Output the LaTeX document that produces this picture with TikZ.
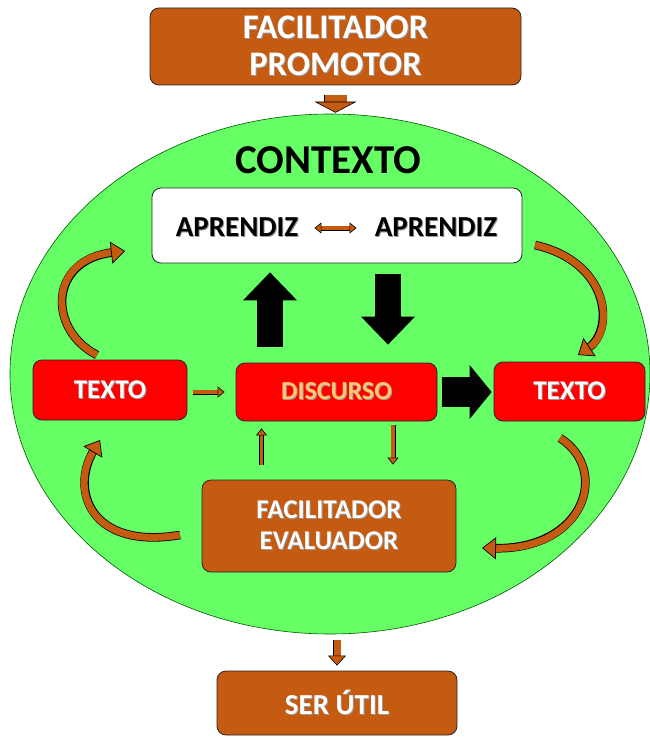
\documentclass[tikz,border=0pt]{standalone}
\usepackage{fontspec}
\setmainfont{Carlito}
\usetikzlibrary{arrows.meta,shapes.geometric}
\definecolor{brn}{HTML}{C55A11}
\definecolor{grn}{HTML}{66FF66}
\definecolor{dsc}{HTML}{FFC870}
\newcommand\shd[2]{\makebox[0pt][l]{\kern1pt\raisebox{-1pt}{\textcolor{black!40}{#2}}}\textcolor{#1}{#2}}
\tikzset{
  box/.style={draw=black!85, line width=0.8pt, rounded corners=9pt, inner sep=0pt},
  brownbox/.style={box, fill=brn},
  redbox/.style={box, fill=red},
  fatarr/.style={line width=26pt, draw=black, -{Triangle[length=28pt,width=54pt,line width=0pt]}},
  fatright/.style={line width=30pt, draw=black, -{Triangle[length=22pt,width=54pt,line width=0pt]}},
  barr/.style 2 args={line width=3.6pt, draw=brn, shorten <=#1, shorten >=#2,
    -{Triangle[length=7pt,width=11pt,line width=0.6pt,color=black,fill=brn]},
    preaction={draw=black, line width=5pt, arrows=-, shorten >=#2+6pt}},
  darr/.style 2 args={line width=3.6pt, draw=brn, shorten <=#1, shorten >=#2,
    {Triangle[length=7pt,width=11pt,line width=0.6pt,color=black,fill=brn]}-{Triangle[length=7pt,width=11pt,line width=0.6pt,color=black,fill=brn]},
    preaction={draw=black, line width=5pt, arrows=-, shorten >=#2+6pt, shorten <=#1+6pt}},
  midarr/.style 2 args={line width=7pt, draw=brn, shorten <=#1, shorten >=#2,
    -{Triangle[length=10pt,width=18pt,line width=0.6pt,color=black,fill=brn]},
    preaction={draw=black, line width=8.4pt, arrows=-, shorten >=#2+9pt}},
  bigarr/.style 2 args={line width=22pt, draw=brn, shorten <=#1, shorten >=#2,
    -{Triangle[length=11pt,width=42pt,line width=0.6pt,color=black,fill=brn]},
    preaction={draw=black, line width=23.4pt, arrows=-, shorten >=#2+10pt}},
  curv/.style={line width=7pt, draw=brn, -{Triangle[length=14pt,width=22pt,line width=0.7pt,color=black,fill=brn]},
    preaction={draw=black, line width=8.6pt, arrows=-, shorten >=12pt}}
}
\begin{document}
\begin{tikzpicture}[x=1pt,y=-1pt]
\useasboundingbox (0,0) rectangle (649,738);
% context ellipse
\node[ellipse, draw=green!35!black, line width=0.6pt, fill=grn, minimum width=640pt, minimum height=520pt, inner sep=0pt] (ell) at (330,374) {};
% top box
\node[brownbox, minimum width=371pt, minimum height=77pt, align=center, font=\bfseries\fontsize{34.5}{37}\selectfont] (top) at (335.5,46.5) {\raisebox{-3pt}{\shd{white}{FACILITADOR}}\\\raisebox{-3pt}{\shd{white}{PROMOTOR}}};
\node[font=\bfseries\fontsize{41}{45}\selectfont] (ctx) at (328,160) {CONTEXTO};
% white box
\node[box, fill=white, minimum width=370pt, minimum height=75pt] (wb) at (337,225.5) {};
\node[font=\bfseries\fontsize{29}{32}\selectfont, inner sep=0pt] (a1) at (237,228) {\shd{black}{APRENDIZ}};
\node[font=\bfseries\fontsize{29}{32}\selectfont, inner sep=0pt] (a2) at (436,228) {\shd{black}{APRENDIZ}};
% middle row
\node[redbox, minimum width=154pt, minimum height=60pt, font=\bfseries\fontsize{27}{30}\selectfont] (texL) at (110,390) {\shd{white}{TEXTO}};
\node[redbox, minimum width=201pt, minimum height=58pt, font=\bfseries\fontsize{26}{30}\selectfont] (disc) at (336.5,392) {\shd{dsc}{DISCURSO}};
\node[redbox, minimum width=151pt, minimum height=59pt, font=\bfseries\fontsize{27}{30}\selectfont] (texR) at (569.5,391.5) {\shd{white}{TEXTO}};
% evaluator
\node[brownbox, minimum width=254pt, minimum height=92pt, align=center, font=\bfseries\fontsize{27}{31}\selectfont] (eval) at (329,526) {\raisebox{-1pt}{\shd{white}{FACILITADOR}}\\\raisebox{-1pt}{\shd{white}{EVALUADOR}}};
% ser util
\node[brownbox, minimum width=240pt, minimum height=64pt, font=\bfseries\fontsize{29}{32}\selectfont] (ser) at (337,703) {\shd{white}{SER ÚTIL}};

% arrows
\draw[bigarr={10pt}{1pt}] (top.south) -- (top.south |- ell.north);
\draw[darr={16pt}{18pt}] (a1.east) -- (a2.west);
\draw[fatarr, shorten <=16pt, shorten >=9pt] ([xshift=-66.5pt]disc.north) -- ([xshift=-66.5pt]disc.north |- wb.south);
\draw[fatarr, shorten <=11pt, shorten >=18pt] ([xshift=51.5pt]disc.north |- wb.south) -- ([xshift=51.5pt]disc.north);
\draw[fatright, shorten <=5pt, shorten >=2pt] (disc.east) -- (disc.east -| texR.west);
\draw[barr={6pt}{11pt}] (texL.east |- disc.west) -- (disc.west);
\draw[barr={15pt}{7pt}] ([xshift=-67.5pt]eval.north) -- ([xshift=-67.5pt]eval.north |- disc.south);
\draw[barr={4pt}{15pt}] ([xshift=64pt]eval.north |- disc.south) -- ([xshift=64pt]eval.north);
\draw[midarr={6pt}{5pt}] (ser.north |- ell.south) -- (ser.north);

% curved arrows
\draw[curv] (97,355) .. controls (48,330) and (48,260) .. (125,251);
\draw[curv] (535,245) .. controls (610,262) and (615,330) .. (578,355);
\draw[curv] (180,535) .. controls (90,550) and (70,490) .. (100,440);
\draw[curv] (560,438) .. controls (610,470) and (585,550) .. (482,548);
\end{tikzpicture}
\end{document}
